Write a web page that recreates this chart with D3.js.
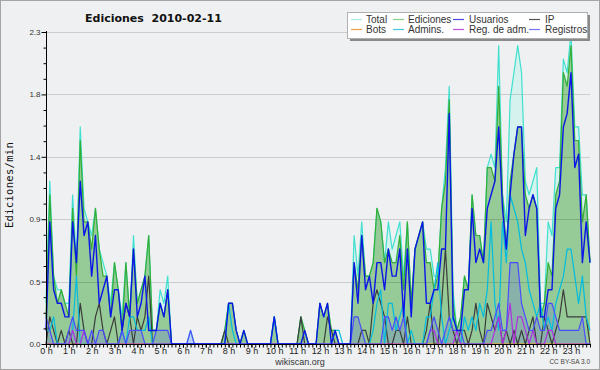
<!DOCTYPE html>
<html><head><meta charset="utf-8">
<script src="https://cdn.jsdelivr.net/npm/d3@7"></script>
<style>html,body{margin:0;padding:0;background:#fff;} svg{display:block;}</style>
</head><body>
<svg id="c" width="600" height="370"></svg>
<script>
const hourLabels = ["0 h","1 h","2 h","3 h","4 h","5 h","6 h","7 h","8 h","9 h","10 h","11 h","12 h","13 h","14 h","15 h","16 h","17 h","18 h","19 h","20 h","21 h","22 h","23 h"];
const yTickValues = [0, 0.46, 0.92, 1.38, 1.84, 2.3];
const yTickLabels = ["0.0","0.5","0.9","1.4","1.8","2.3"];
const seriesNames = ["Total","Ediciones","Usuarios","IP","Bots","Admins.","Reg. de adm.","Registros"];

// values per 10-minute slot (edits/min), 6 per hour
const total = [
0.3,1.2,0.5,0.4,0.4,0.3, 0.3,1.1,0.6,1.6,1.0,0.9, 0.8,1.0,0.7,0.6,0.5,0.3, 0.6,0.4,0.2,0.6,0.2,0.8,
0.3,0.4,0.5,0.8,0.1,0.1, 0.4,0.3,0.5,0,0,0, 0,0,0.1,0,0,0, 0,0,0,0,0,0.1,
0.3,0.3,0.1,0,0.1,0, 0,0,0,0,0,0, 0.2,0,0,0,0,0, 0,0.2,0.1,0,0,0,
0.3,0.2,0.3,0.1,0.1,0, 0,0,0,0.8,0.5,0.9, 0.5,0.5,0.6,1.0,0.9,0.6, 0.9,0.7,0.8,0.9,0.5,0.9,
0.3,0.7,0.8,0.9,0.7,0.7, 0.5,0.5,1.0,1.3,1.9,0.4, 0.1,0.2,0.5,0.4,1.1,0.8, 0.8,0.6,1.3,1.4,1.3,2.2,
1.1,0.9,1.8,2.0,2.2,2.0, 1.2,1.1,1.2,1.3,0.3,0.3, 0.9,0.8,1.3,1.3,2.1,2.0, 2.3,1.6,1.6,1.1,1.1,0.6];
const edits = [
0.2,1.1,0.5,0.3,0.4,0.3, 0.2,1.0,0.5,1.5,0.9,0.9, 0.7,1.0,0.7,0.5,0.5,0.2, 0.6,0.4,0.1,0.6,0.2,0.7,
0.3,0.4,0.5,0.8,0.1,0.1, 0.3,0.2,0.4,0,0,0, 0,0,0,0,0,0, 0,0,0,0,0,0.1,
0.3,0.3,0.1,0,0.1,0, 0,0,0,0,0,0, 0.2,0,0,0,0,0, 0,0.2,0.1,0,0,0,
0.3,0.2,0.3,0.1,0.1,0, 0,0,0,0.6,0.4,0.8, 0.5,0.5,0.6,1.0,0.9,0.6, 0.7,0.6,0.6,0.8,0.4,0.9,
0.3,0.7,0.8,0.9,0.6,0.6, 0.4,0.5,1.0,1.2,1.8,0.3, 0.1,0.2,0.5,0.4,1.1,0.8, 0.8,0.6,1.3,1.3,1.2,1.9,
1.1,0.7,1.2,1.4,1.6,1.6, 1.1,1.0,1.1,1.0,0.2,0.3, 0.6,0.5,1.1,1.2,2.0,1.9, 2.2,1.5,1.5,0.9,1.1,0.6];
const users = [
0.1,0.9,0.4,0.3,0.3,0.2, 0.2,0.9,0.6,1.2,0.8,0.9, 0.5,0.8,0.3,0.4,0.5,0.2, 0.4,0.4,0.1,0.3,0.2,0.7,
0.2,0.3,0.5,0.1,0.1,0.1, 0.3,0.2,0.4,0,0,0, 0,0,0,0,0,0, 0,0,0,0,0,0,
0.3,0.3,0.1,0,0.1,0, 0,0,0,0,0,0, 0.2,0,0,0,0,0, 0,0,0.1,0,0,0,
0.3,0.2,0.3,0,0.1,0, 0,0,0,0.6,0.3,0.8, 0.4,0.5,0.3,0.6,0.6,0.4, 0.7,0.5,0.5,0.7,0.2,0.7,
0.2,0.7,0.8,0.9,0.3,0.3, 0.4,0.4,0.7,0.7,1.7,0.2, 0.1,0.1,0.4,0.4,1.0,0.6, 0.7,0.6,1.0,1.1,1.2,1.6,
1.0,0.7,1.1,1.4,1.6,1.6, 0.8,1.0,1.1,1.0,0.2,0.2, 0.4,0.4,1.0,1.1,1.6,1.7, 2.0,1.3,1.4,0.6,0.9,0.6];
const ip = [
0,0.2,0.1,0,0.1,0, 0.1,0,0,0.3,0.1,0, 0,0.2,0.3,0.1,0,0.1, 0.2,0,0.1,0.3,0.2,0,
0.2,0.1,0.2,0.5,0,0, 0,0,0,0,0,0, 0,0,0,0,0,0, 0,0,0,0,0,0.1,
0,0,0,0,0,0, 0,0,0,0,0,0, 0,0,0,0,0,0, 0,0.2,0,0,0,0,
0,0,0.2,0.1,0,0, 0,0,0,0,0,0.1, 0.1,0,0.3,0.4,0.3,0.2, 0,0,0.1,0.1,0,0.2,
0,0,0,0,0.1,0.3, 0,0,0.3,0.7,0.2,0.1, 0,0.1,0.1,0,0.1,0.3, 0.1,0,0.3,0.2,0.1,0.2,
0,0.1,0,0.1,0,0.1, 0,0.1,0.2,0,0,0.2, 0.1,0,0.1,0.2,0.4,0.2, 0.2,0.2,0.2,0.2,0.2,0];
const bots = [
0,0,0,0,0,0, 0,0,0,0,0,0, 0,0,0,0,0,0, 0,0,0,0,0,0,
0,0,0,0,0,0, 0,0,0,0,0,0, 0,0,0,0,0,0, 0,0,0,0,0,0,
0,0,0,0,0,0, 0,0,0,0,0,0, 0,0,0,0,0,0, 0,0,0,0,0,0,
0,0,0,0,0,0, 0,0,0,0,0,0, 0,0,0,0,0,0, 0,0,0,0,0,0,
0,0,0,0,0,0, 0,0,0,0,0,0, 0,0,0,0,0,0, 0,0,0,0,0,0,
0,0,0,0,0,0, 0,0,0,0,0,0, 0,0,0,0,0,0, 0,0,0,0,0,0];
const admins = [
0.1,0.1,0.2,0,0,0, 0,0.1,0.5,0,0,0, 0,0,0,0,0,0, 0,0,0.1,0,0.2,0.2,
0.1,0.1,0.1,0.2,0,0, 0,0,0,0,0,0, 0,0,0,0,0,0, 0,0,0,0,0,0,
0.3,0.1,0,0,0,0, 0,0,0,0,0,0, 0.2,0,0,0,0,0, 0,0,0,0,0,0,
0,0,0,0,0.1,0.1, 0,0,0,0,0,0, 0,0,0.1,0.3,0.4,0, 0.3,0.3,0.1,0.2,0.3,0,
0.1,0,0,0,0.2,0.2, 0.4,0.6,0.2,0,0.1,0.2, 0.1,0,0.2,0.1,0.2,0.1, 0.3,0.2,0.4,0.9,0.3,0.1,
0.9,0.6,1.1,1.0,0.9,0.7, 0.6,0.4,0.3,0.2,0.3,0.1, 0.2,0.1,0.3,0.4,0.5,0.7, 0.7,0.5,0.3,0.5,0.2,0.1];
const regAdm = [
0,0,0,0,0,0, 0,0.1,0,0,0.1,0, 0,0,0,0,0,0, 0,0,0,0,0,0,
0,0,0,0,0,0, 0,0,0,0,0,0, 0,0,0,0,0,0, 0,0,0,0,0,0,
0,0,0,0,0,0, 0,0,0,0,0,0, 0,0,0,0,0,0, 0,0,0,0,0,0,
0,0,0,0,0,0, 0,0,0,0,0,0, 0,0,0,0,0,0, 0,0,0,0,0,0,
0,0,0,0,0,0.1, 0.1,0,0,0,0,0, 0.1,0,0,0,0,0, 0,0,0,0,0.1,0.2,
0,0.1,0.3,0,0.2,0.2, 0.1,0,0.1,0,0,0, 0.1,0.1,0,0,0,0, 0,0,0,0,0,0];
const logs = [
0.2,0.1,0,0,0,0, 0.1,0.2,0.1,0.1,0.1,0, 0.1,0,0.1,0.1,0,0, 0,0,0.1,0,0.1,0.1,
0.1,0.1,0,0,0,0.1, 0.1,0.1,0.1,0,0,0, 0,0,0.1,0,0,0, 0,0,0,0,0,0,
0,0,0,0,0,0, 0,0,0,0,0,0, 0,0,0,0,0,0, 0,0,0,0,0,0,
0,0,0,0,0,0, 0,0,0,0.2,0.2,0.1, 0,0,0,0,0,0.2, 0.2,0.1,0.2,0.1,0.2,0,
0,0,0,0,0,0.1, 0.2,0.1,0,0.1,0.2,0.1, 0.1,0.1,0,0,0,0, 0,0,0.1,0.1,0.2,0.3,
0.1,0.1,0.6,0.6,0.6,0.3, 0.2,0.1,0.1,0.2,0.1,0.1, 0.3,0.3,0.2,0.1,0.1,0.1, 0.1,0.1,0.1,0.2,0,0];

const lineColors = ["#40e0d0","#33ad33","#0a16e8","#3c3c3c","#ff9900","#00bde0","#b030e0","#4b4bff"];
const legendColors = ["#a6e8e4","#86cf86","#4a4ae0","#555555","#f0a040","#40c8e0","#c050e0","#7474ff"];

const svg = d3.select("#c");
const FONT = "'Liberation Sans', Arial, sans-serif";
svg.append("rect").attr("x",0.5).attr("y",0.5).attr("width",599).attr("height",369)
  .attr("fill","#eff0f1").attr("stroke","#a4a4a4");

const x = d3.scaleLinear().domain([0,143]).range([46,590]);
const y = d3.scaleLinear().domain([0,2.3]).range([344,32]);

const area = d3.area().x((d,i)=>x(i)).y0(y(0)).y1(d=>y(d));
const line = d3.line().x((d,i)=>x(i)).y(d=>y(d));

// areas
svg.append("path").attr("d",area(total)).attr("fill","#d6f2ee");
svg.append("path").attr("d",area(edits)).attr("fill","#96ca96");
svg.append("path").attr("d",area(logs)).attr("fill","#4848ff").attr("fill-opacity",0.18);

// grid
svg.append("g").selectAll("line").data(yTickValues.slice(1)).join("line")
  .attr("x1",46).attr("x2",590).attr("y1",d=>Math.round(y(d))+0.5).attr("y2",d=>Math.round(y(d))+0.5)
  .attr("stroke","#000").attr("stroke-opacity",0.15);

// lines
const order = [
  [total,0],[edits,1],[bots,4],[ip,3],[admins,5],[regAdm,6],[logs,7],[users,2]
];
order.forEach(([data,k])=>{
  svg.append("path").attr("d",line(data)).attr("fill","none")
    .attr("stroke",lineColors[k]).attr("stroke-width",k===2?1.4:1.2).attr("stroke-linejoin","round");
});

// axes
const minorY = [];
for (let k=0;k<yTickValues.length-1;k++){
  const a=yTickValues[k], b=yTickValues[k+1];
  for (let j=1;j<4;j++) minorY.push(a+(b-a)*j/4);
}
const yMinor = d3.axisLeft(y).tickValues(minorY).tickSize(3).tickFormat("").tickSizeOuter(0);
const yMajor = d3.axisLeft(y).tickValues(yTickValues).tickSize(5).tickPadding(1)
  .tickFormat((d,i)=>yTickLabels[i]).tickSizeOuter(0);
const gy1 = svg.append("g").attr("transform","translate(46.5,0)").call(yMinor);
const gy2 = svg.append("g").attr("transform","translate(46.5,0)").call(yMajor);
[gy1,gy2].forEach(g=>{g.select(".domain").remove(); g.selectAll("line").attr("stroke","#000");});
gy2.selectAll("text").attr("font-family",FONT).attr("font-size",8).attr("fill","#333");

const xMinor = d3.axisBottom(x).tickValues(d3.range(0,144)).tickSize(3).tickFormat("").tickSizeOuter(0);
const xMajor = d3.axisBottom(x).tickValues(d3.range(0,144,6)).tickSize(3).tickPadding(0)
  .tickFormat(d=>hourLabels[d/6]).tickSizeOuter(0);
const gx1 = svg.append("g").attr("transform","translate(0,344.5)").call(xMinor);
const gx2 = svg.append("g").attr("transform","translate(0,344.5)").call(xMajor);
[gx1,gx2].forEach(g=>{g.select(".domain").remove(); g.selectAll("line").attr("stroke","#000");});
gx2.selectAll("text").attr("font-family",FONT).attr("font-size",9).attr("fill","#222");

svg.append("line").attr("x1",46.5).attr("x2",46.5).attr("y1",31).attr("y2",345).attr("stroke","#000");
svg.append("line").attr("x1",46).attr("x2",591).attr("y1",344.5).attr("y2",344.5).attr("stroke","#000");

// titles
svg.append("text").attr("x",85).attr("y",21.5).attr("xml:space","preserve").style("white-space","pre")
  .attr("font-family","'DejaVu Sans', sans-serif").attr("font-weight","bold").attr("font-size",11)
  .attr("fill","#111").text("Ediciones  2010-02-11");
svg.append("text").attr("transform","translate(13,185) rotate(-90)").attr("text-anchor","middle")
  .attr("font-family","'DejaVu Sans Mono', monospace").attr("font-size",10.5).attr("letter-spacing",0.3)
  .attr("fill","#111").text("Ediciones/min");
svg.append("text").attr("x",300).attr("y",365).attr("text-anchor","middle")
  .attr("font-family",FONT).attr("font-size",9).attr("fill","#333").text("wikiscan.org");
svg.append("text").attr("x",590).attr("y",364).attr("text-anchor","end")
  .attr("font-family",FONT).attr("font-size",6.5).attr("fill","#444").text("CC BY-SA 3.0");

// legend
const lg = svg.append("g");
lg.append("rect").attr("x",350).attr("y",15).attr("width",240).attr("height",26).attr("fill","#8a8a8a");
lg.append("rect").attr("x",347.5).attr("y",12.5).attr("width",240).attr("height",26)
  .attr("fill","#fff").attr("stroke","#b0b0b0");
const colSw = [351, 393, 453, 529];
const colTx = [366, 408, 469, 545];
seriesNames.forEach((name,i)=>{
  const c = i%4, r = Math.floor(i/4);
  const yy = r===0 ? 19.5 : 29.5;
  lg.append("line").attr("x1",colSw[c]).attr("x2",colSw[c]+11).attr("y1",yy).attr("y2",yy)
    .attr("stroke",legendColors[i]).attr("stroke-width",1.2);
  lg.append("text").attr("x",colTx[c]).attr("y",r===0?23:33).attr("font-family",FONT)
    .attr("font-size",10).attr("fill","#333").text(name);
});
</script>
</body></html>
